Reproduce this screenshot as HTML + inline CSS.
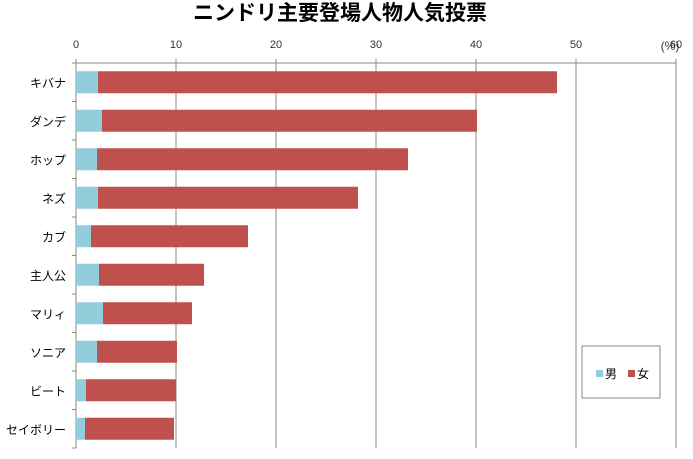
<!DOCTYPE html>
<html><head><meta charset="utf-8"><style>
body{margin:0;background:#fff;width:693px;height:454px;overflow:hidden}
text{font-family:"Liberation Sans","Noto Sans CJK JP",sans-serif}
</style></head><body>
<svg id="c" width="693" height="454">
<text x="340" y="20" text-anchor="middle" font-size="21" font-weight="bold">ニンドリ主要登場人物人気投票</text>
<text x="670" y="50" text-anchor="middle" font-size="12" fill="#333">(%)</text>
<g id="grid"></g><g id="bars"></g><g id="labels"></g>
<g>
<rect x="582" y="346" width="78" height="52" fill="#fff" stroke="#888"/>
<rect x="596" y="370" width="7" height="7" fill="#92cddc"/>
<text x="605" y="378" font-size="12">男</text>
<rect x="628" y="370" width="7" height="7" fill="#c0504d"/>
<text x="637" y="378" font-size="12">女</text>
</g>
</svg>
<script>
const categories=["キバナ","ダンデ","ホップ","ネズ","カブ","主人公","マリィ","ソニア","ビート","セイボリー"];
const maleValues=[2.2,2.6,2.1,2.2,1.5,2.3,2.7,2.1,1.0,0.9];
const totalValues=[48.1,40.1,33.2,28.2,17.2,12.8,11.6,10.1,10.0,9.8];
const ticks=[0,10,20,30,40,50,60];
const NS="http://www.w3.org/2000/svg";
const x0=76,xs=10,yTop=63,yBot=448,band=(yBot-yTop)/categories.length;
const X=v=>x0+v*xs, Y=i=>yTop+i*band;
function mk(t,a,p){const e=document.createElementNS(NS,t);for(const k in a)e.setAttribute(k,a[k]);p.appendChild(e);return e;}
const g=document.getElementById('grid'),b=document.getElementById('bars'),l=document.getElementById('labels');
mk('line',{x1:x0,x2:X(60),y1:yTop,y2:yTop,stroke:'#888'},g);
ticks.forEach(t=>{
 const ln=mk('line',{x1:X(t),x2:X(t),y1:yTop-4,y2:yBot,stroke:'#888'},g);
 
 
 const tx=mk('text',{x:X(t),y:48,'text-anchor':'middle','font-size':11,fill:'#333'},g);tx.textContent=t;
 
 
});
for(let i=0;i<=categories.length;i++)mk('line',{x1:x0-4,x2:x0,y1:Y(i),y2:Y(i),stroke:'#888'},g);
categories.forEach((c,i)=>{
 const cy=Y(i)+band/2;
 const m=mk('rect',{x:X(0),y:cy-11,width:X(maleValues[i])-X(0),height:22,fill:'#92cddc'},b);
 
 
 const f=mk('rect',{x:X(maleValues[i]),y:cy-11,width:X(totalValues[i])-X(maleValues[i]),height:22,fill:'#c0504d'},b);
 
 
 const t=mk('text',{x:x0-10,y:cy+5,'text-anchor':'end','font-size':12},l);t.textContent=c;
 
 
});
</script>
</body></html>
